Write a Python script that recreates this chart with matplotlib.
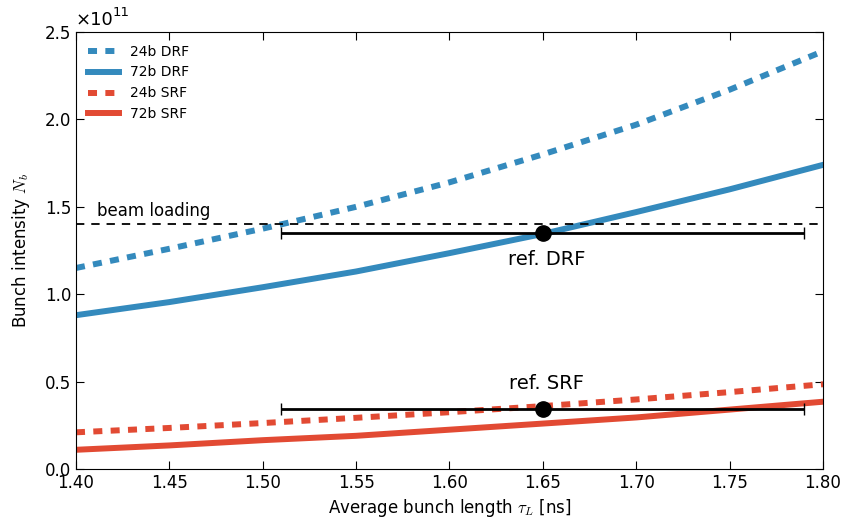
import numpy as np
import matplotlib
matplotlib.use("Agg")
import matplotlib.pyplot as plt
from matplotlib.ticker import FuncFormatter

# bunch length [ns] and bunch intensity (units of 1e11)
tau = np.array([1.40, 1.45, 1.50, 1.55, 1.60, 1.65, 1.70, 1.75, 1.80])
nb_24b_drf = np.array([1.15, 1.26, 1.375, 1.50, 1.64, 1.80, 1.97, 2.17, 2.39])
nb_72b_drf = np.array([0.88, 0.955, 1.04, 1.13, 1.235, 1.345, 1.47, 1.60, 1.74])
nb_24b_srf = np.array([0.21, 0.235, 0.263, 0.293, 0.325, 0.36, 0.398, 0.44, 0.485])
nb_72b_srf = np.array([0.11, 0.135, 0.165, 0.19, 0.225, 0.26, 0.295, 0.34, 0.385])

beam_loading = 1.40
ref_tau = 1.65
ref_tau_lo, ref_tau_hi = 1.51, 1.79
ref_drf = 1.35
ref_srf = 0.345

scale = 1e11

plt.rcParams['font.family'] = 'DejaVu Sans'
plt.rcParams['xtick.direction'] = 'in'
plt.rcParams['ytick.direction'] = 'in'
plt.rcParams['xtick.top'] = True
plt.rcParams['ytick.right'] = True
plt.rcParams['xtick.major.size'] = 6
plt.rcParams['ytick.major.size'] = 6
plt.rcParams['mathtext.fontset'] = 'cm'
plt.rcParams['lines.scale_dashes'] = False

blue = '#348ABD'
red = '#E24A33'

fig = plt.figure(figsize=(8.45, 5.17), dpi=100)
ax = fig.add_axes([0.0899, 0.0928, 0.8841, 0.8453])

dash = (6.5, 6)
ax.plot(tau, nb_24b_drf * scale, color=blue, lw=4.3, dashes=dash, label='24b DRF')
ax.plot(tau, nb_72b_drf * scale, color=blue, lw=4.3, label='72b DRF')
ax.plot(tau, nb_24b_srf * scale, color=red, lw=4.3, dashes=dash, label='24b SRF')
ax.plot(tau, nb_72b_srf * scale, color=red, lw=4.3, label='72b SRF')

ax.axhline(beam_loading * scale, color='k', ls='--', dashes=(6, 5), lw=1.3)
ax.text(1.411, 1.476 * scale, 'beam loading', fontsize=12, va='center', ha='left')

for yv in (ref_drf, ref_srf):
    ax.errorbar([ref_tau], [yv * scale],
                xerr=[[ref_tau - ref_tau_lo], [ref_tau_hi - ref_tau]],
                fmt='o', color='k', ms=11, elinewidth=2, capsize=4, capthick=1, zorder=5)

ax.text(ref_tau + 0.002, 1.20 * scale, 'ref. DRF', fontsize=14, ha='center', va='center')
ax.text(ref_tau + 0.002, 0.49 * scale, 'ref. SRF', fontsize=14, ha='center', va='center')

ax.set_xlim(1.40, 1.80)
ax.set_ylim(0, 2.5e11)
ax.set_xticks(np.arange(1.40, 1.801, 0.05))
ax.set_xticklabels(['%.2f' % v for v in np.arange(1.40, 1.801, 0.05)])
ax.yaxis.set_major_formatter(FuncFormatter(lambda v, p: '%.1f' % (v / scale)))
ax.tick_params(labelsize=12)

# offset label drawn by hand so the "10" stays in the sans font
ax.text(0.0, 1.008, u'\u00d710', transform=ax.transAxes, fontsize=13, ha='left', va='bottom')
ax.annotate('11', xy=(0.0, 1.008), xycoords='axes fraction', xytext=(26.5, 6.5),
            textcoords='offset points', fontsize=9.5, ha='left', va='bottom')

ax.set_xlabel(r'Average bunch length $\tau_L$ [ns]', fontsize=12)
ax.set_ylabel(r'Bunch intensity $N_b$', fontsize=12, labelpad=9)

ax.legend(loc='upper left', frameon=False, fontsize=10, handlelength=2.2, labelspacing=0.5)

fig.savefig('out.png', dpi=100)
